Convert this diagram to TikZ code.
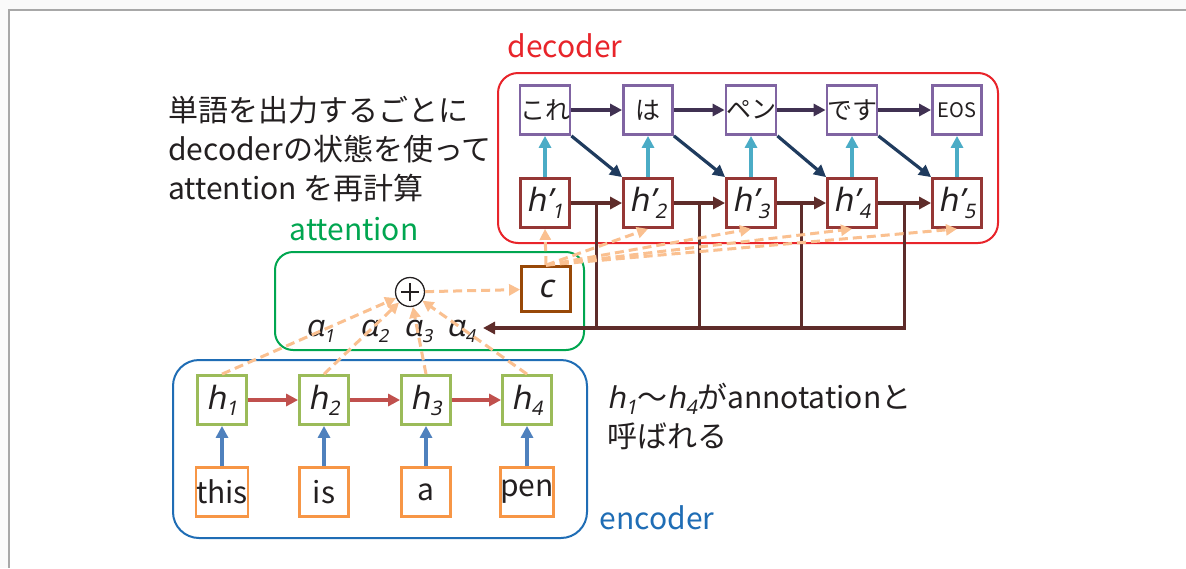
\documentclass[tikz,border=0pt]{standalone}
\usepackage{fontspec}
\setmainfont{Noto Sans CJK JP}
\newfontfamily\itf{Noto Sans}[FakeSlant=0.2]
\usetikzlibrary{arrows.meta,calc}
\definecolor{bgc}{HTML}{FAFAFA}
\definecolor{framec}{HTML}{A8A8A8}
\definecolor{txt}{HTML}{231F20}
\definecolor{decred}{HTML}{E8242A}
\definecolor{attgreen}{HTML}{00A650}
\definecolor{encblue}{HTML}{1F6DB5}
\definecolor{purp}{HTML}{8064A2}
\definecolor{hbrown}{HTML}{953735}
\definecolor{purparr}{HTML}{403152}
\definecolor{navy}{HTML}{1F3B5E}
\definecolor{cyanarr}{HTML}{4BACC6}
\definecolor{busc}{HTML}{5E2C2A}
\definecolor{hgreen}{HTML}{9BBB59}
\definecolor{wordor}{HTML}{F79646}
\definecolor{bluearr}{HTML}{4F81BD}
\definecolor{redarr}{HTML}{C0504D}
\definecolor{peach}{HTML}{FAC090}
\definecolor{cbrown}{HTML}{984807}
\newcommand\hlab[1]{{\itf h\raisebox{-6pt}{\fontsize{20}{20}\selectfont\itf #1}}}
\newcommand\hplab[1]{{\itf h’\raisebox{-7pt}{\fontsize{20}{20}\selectfont\itf #1}}}
\newcommand\alab[1]{{\itf α\raisebox{-6pt}{\fontsize{18}{18}\selectfont\itf #1}}}
\tikzset{
  cell/.style={draw, line width=2.8pt, minimum size=49pt, inner sep=0pt, fill=white, text=txt},
  outbox/.style={cell, draw=purp, font=\fontsize{25}{25}\selectfont},
  decbox/.style={cell, draw=hbrown, font=\fontsize{32}{32}\selectfont},
  encbox/.style={cell, draw=hgreen, font=\fontsize{32}{32}\selectfont},
  wordbox/.style={cell, draw=wordor, font=\fontsize{30}{30}\selectfont},
  arr/.style={line width=3.2pt, -{Triangle[length=12pt,width=12pt]}},
  dasharr/.style={line width=3pt, draw=peach, dash pattern=on 9pt off 5pt, -{Triangle[length=11pt,width=11pt]}},
  group/.style={draw, line width=2pt, rounded corners=20pt, inner sep=0pt},
  grouplabel/.style={font=\fontsize{30}{30}\selectfont, inner sep=0pt},
  alpha/.style={font=\fontsize{30}{30}\selectfont, text=txt, inner sep=0pt},
  note/.style={font=\fontsize{30}{39}\selectfont, text=txt, align=left, inner sep=0pt}
}
\begin{document}
\begin{tikzpicture}[x=1pt,y=-1pt]
\useasboundingbox (0,0) rectangle (1186,568);
\fill[bgc] (0,0) rectangle (1186,568);
\fill[white] (9,10) rectangle (1186,568);
\draw[framec, line width=2pt] (8.5,568) -- (8.5,9.5) -- (1186,9.5);

% group boxes
\node[group, draw=decred, minimum width=500pt, minimum height=170pt] (decgrp) at (748,158) {};
\node[group, draw=attgreen, minimum width=309pt, minimum height=98pt, rounded corners=18pt] (attgrp) at (429.5,301) {};
\node[group, draw=encblue, minimum width=414pt, minimum height=178pt, rounded corners=26pt] (encgrp) at (380,449) {};
\node[grouplabel, text=decred] (declab) at (565,46) {decoder};
\node[grouplabel, text=attgreen] (attlab) at (354,229) {attention};
\node[grouplabel, text=encblue] (enclab) at (657,518) {encoder};

% notes
\node[note, anchor=west] (note1) at (168,149) {単語を出力するごとに\\decoderの状態を使って\\attention を再計算};
\node[note, anchor=west] (note2) at (607,416) {\hlab{1}〜\hlab{4}がannotationと\\呼ばれる};

% decoder outputs
\node[outbox] (o1) at (545,110) {これ};
\node[outbox] (o2) at (648,110) {は};
\node[outbox] (o3) at (751,110) {ペン};
\node[outbox] (o4) at (852,110) {です};
\node[outbox, font=\fontsize{20}{20}\selectfont] (o5) at (957,110) {EOS};
% decoder states
\node[decbox] (d1) at (545,203) {\hplab{1}};
\node[decbox] (d2) at (648,203) {\hplab{2}};
\node[decbox] (d3) at (751,203) {\hplab{3}};
\node[decbox] (d4) at (852,203) {\hplab{4}};
\node[decbox] (d5) at (957,203) {\hplab{5}};

% attention
\node[cell, draw=cbrown, minimum width=49pt, minimum height=45pt, font=\fontsize{32}{32}\selectfont] (c) at (546,289) {\itf c};
\node[draw=txt, circle, line width=1.3pt, minimum size=29pt, inner sep=0pt] (plus) at (410,292) {};
\draw[txt, line width=2pt] ([yshift=-9pt]plus.center) -- ([yshift=9pt]plus.center)
                            ([xshift=-9pt]plus.center) -- ([xshift=9pt]plus.center);

% encoder
\node[encbox] (h1) at (222,400) {\hlab{1}};
\node[encbox] (h2) at (324,400) {\hlab{2}};
\node[encbox] (h3) at (426,400) {\hlab{3}};
\node[encbox] (h4) at (527,400) {\hlab{4}};
\node[wordbox] (w1) at (222,492) {this};
\node[wordbox] (w2) at (324,492) {is};
\node[wordbox] (w3) at (426,492) {a};
\node[wordbox] (w4) at (527,492) {pen};

% alpha labels
\node[alpha] (a1) at (320,331) {\alab{1}};
\node[alpha] (a2) at (374,331) {\alab{2}};
\node[alpha] (a3) at (418,331) {\alab{3}};
\node[alpha] (a4) at (461,331) {\alab{4}};

% encoder arrows
\foreach \i in {1,...,4} {\draw[arr, bluearr] (w\i) -- (h\i);}
\foreach \i/\j in {1/2,2/3,3/4} {\draw[arr, redarr] (h\i) -- (h\j);}

% decoder arrows
\foreach \i/\j in {1/2,2/3,3/4,4/5} {
  \draw[arr, purparr] (o\i) -- (o\j);
  \draw[arr, navy] (o\i.south east) -- (d\j.north west);
  \draw[arr, busc] (d\i) -- (d\j);
  \coordinate (m\i) at ($(d\i.east)!0.5!(d\j.west)$);
}
\foreach \i in {1,...,5} {\draw[arr, cyanarr] (d\i) -- (o\i);}

% bus back to attention
\coordinate (busend) at (483,328);
\foreach \i in {1,2,3} {\draw[busc, line width=3.2pt] (m\i) -- (m\i |- busend);}
\draw[arr, busc] (m4) |- (busend);

% attention dashed arrows
\foreach \i in {1,...,4} {\draw[dasharr] (h\i.north) -- (plus);}
\draw[dasharr] (plus) -- (c);
\foreach \i in {1,...,5} {\draw[dasharr] (c.north) -- (d\i.south);}
\end{tikzpicture}
\end{document}
